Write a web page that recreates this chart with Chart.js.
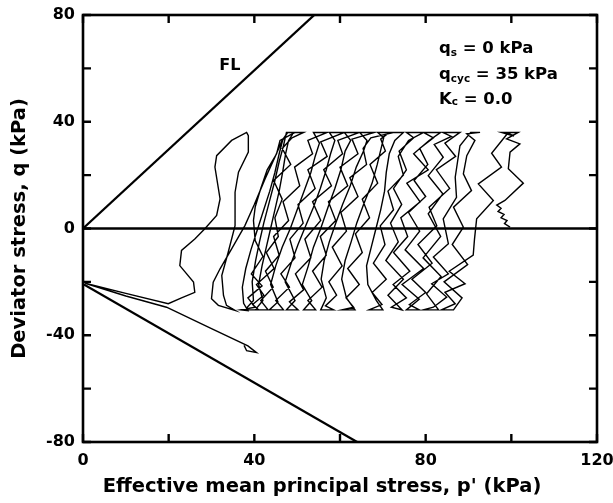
<!DOCTYPE html>
<html>
<head>
<meta charset="utf-8">
<script src="https://cdn.jsdelivr.net/npm/chart.js@4.4.1/dist/chart.umd.min.js"></script>
<style>
  body { margin: 0; background: #fff; }
  #wrap { width: 613px; height: 503px; }
</style>
</head>
<body>
<div id="wrap"><canvas id="stressChart" width="613" height="503"></canvas></div>
<script>
// axis ranges and labelled ticks
const xRange = [0, 120];
const yRange = [-80, 80];
const xTickLabels = [0, 40, 80, 120];
const yTickLabels = [-80, -40, 0, 40, 80];

// failure lines (compression / extension) and the q = 0 line
const flCompP = [0, 54];
const flCompQ = [0, 80];
const flExtP = [0, 64];
const flExtQ = [-20.8, -80];
const zeroP = [0, 120];
const zeroQ = [0, 0];

// stress path, [p', q] in kPa
const initialLoad = [
  [99.7,0.5],[98.4,1.8],[99.0,3.0],[97.6,4.0],[98.3,5.3],[96.9,6.4],[97.6,7.6],[96.6,8.8],
  [98.5,10.5],[102.8,17.0],[99.3,22.4],[99.7,28.6],[102.0,31.7],[98.9,33.6],[101.6,36.0],
  [97.7,36.0],[100.6,34.6],[99.2,35.8]
];
const cyclesRight = [
  [95.4,28.2],[97.7,23.0],[92.3,16.7],[95.8,10.5],[91.9,3.6],[91.4,-4.0],[91.1,-10.0],[85.5,-16.0],
  [89.2,-20.7],[84.5,-23.9],[86.9,-28.2],[83.7,-30.5],[86.5,-30.5],
  [88.5,-26.0],[84.3,-20.0],[89.8,-13.5],[86.2,-6.0],[88.8,0.5],[86.5,8.0],[90.7,14.2],[88.8,20.5],
  [89.6,27.3],[91.5,33.0],[89.6,35.5],[92.7,36.0],[90.5,36.0],
  [88.0,31.0],[86.9,19.2],[87.2,11.7],[84.1,3.6],[85.3,-5.7],[81.8,-10.7],[85.3,-17.0],[81.4,-20.7],
  [84.9,-25.7],[81.8,-29.5],[79.5,-30.5],[83.0,-30.5],
  [80.2,-24.5],[83.6,-18.0],[79.4,-11.0],[83.5,-3.0],[80.6,5.5],[84.0,13.0],[80.6,19.8],[84.1,26.7],
  [82.0,31.5],[86.0,34.5],[84.0,36.0],[88.0,36.0],
  [84.5,32.0],[87.0,27.0],[82.5,22.0],[85.6,15.0],[80.8,8.0],[82.6,1.0],[78.2,-6.0],[81.5,-13.0],
  [76.8,-19.0],[80.0,-24.0],[76.2,-28.5],[78.5,-30.5],[75.5,-30.5],
  [78.5,-26.5],[74.5,-21.0],[79.5,-15.0],[75.2,-8.0],[78.6,-1.0],[76.0,6.0],[80.0,12.0],[77.3,18.0],
  [80.5,24.0],[78.6,30.0],[81.8,34.0],[79.5,36.0],[83.5,36.0],
  [80.8,33.0],[77.2,28.0],[80.6,22.0],[75.6,17.0],[78.7,10.0],[74.2,4.0],[75.8,-3.0],[72.5,-9.0],
  [76.3,-16.0],[72.4,-21.0],[75.5,-26.0],[72.0,-29.5],[74.5,-30.5],
  [71.2,-25.0],[74.8,-19.0],[70.7,-12.0],[73.6,-5.0],[71.8,2.0],[74.4,9.0],[72.5,15.0],[75.5,22.0],
  [73.8,29.0],[77.2,34.0],[75.5,36.0],[79.5,36.0]
];
const cyclesMiddle = [
  [76.0,33.0],[73.6,27.0],[74.8,20.0],[71.2,14.0],[72.5,7.0],[69.4,1.0],[70.5,-6.0],[67.8,-13.0],
  [70.8,-19.0],[67.5,-24.0],[69.8,-28.5],[66.8,-30.5],[70.0,-30.5],
  [68.5,-27.0],[66.5,-21.0],[66.2,-14.0],[67.3,-7.0],[68.4,0.0],[69.5,7.0],[70.4,14.0],[70.8,21.0],
  [71.5,28.0],[72.8,33.0],[74.8,36.0],[71.5,36.0],
  [69.5,33.5],[70.6,29.0],[67.0,24.0],[68.8,17.0],[65.2,11.0],[66.9,4.0],[63.6,-2.0],[65.2,-9.0],
  [61.8,-15.0],[64.5,-21.0],[61.4,-26.0],[63.2,-29.5],[60.5,-30.5],[63.5,-30.5],
  [61.5,-26.0],[60.4,-19.0],[61.2,-12.0],[62.6,-5.0],[63.9,2.0],[65.5,9.0],[67.5,17.0],[68.7,24.0],
  [69.6,30.0],[70.2,34.0],[68.8,36.0],[72.5,36.0],
  [67.2,34.0],[65.4,30.0],[66.2,24.0],[62.3,19.0],[64.2,12.0],[60.2,6.0],[61.5,-1.0],[58.2,-7.0],
  [60.5,-14.0],[57.4,-20.0],[59.2,-25.0],[56.6,-29.0],[58.5,-30.5],[55.5,-30.5],
  [56.8,-26.0],[55.6,-19.0],[56.3,-12.0],[57.5,-5.0],[59.0,2.0],[60.6,9.0],[62.4,16.0],[63.8,23.0],
  [65.5,29.0],[66.3,33.0],[64.6,36.0],[68.0,36.0],
  [62.8,33.5],[64.2,28.0],[60.0,23.0],[61.8,16.0],[57.3,10.0],[59.0,3.0],[55.4,-3.0],[56.8,-10.0],
  [53.6,-16.0],[55.8,-22.0],[52.5,-27.0],[54.3,-30.5],[51.5,-30.5],
  [53.4,-27.0],[51.2,-21.0],[52.6,-14.0],[53.8,-7.0],[55.5,0.0],[57.2,8.0],[58.8,15.0],[60.2,22.0],
  [61.2,29.0],[62.5,33.0],[61.0,36.0],[64.5,36.0],
  [59.5,33.0],[60.6,28.0],[56.2,22.0],[58.0,16.0],[53.6,10.0],[55.5,3.0],[51.8,-4.0],[53.2,-11.0],
  [49.6,-17.0],[51.5,-23.0],[48.2,-27.5],[50.2,-30.5],[47.5,-30.5],
  [49.5,-27.0],[47.2,-20.0],[48.6,-13.0],[50.2,-6.0],[52.0,1.0],[53.8,8.0],[55.4,15.0],[56.8,22.0],
  [57.8,28.0],[58.8,33.0],[57.5,36.0],[61.0,36.0]
];
const cyclesLeft = [
  [55.5,32.5],[57.0,27.0],[52.5,22.0],[54.2,15.0],[50.2,9.0],[51.4,2.0],[48.3,-4.0],[49.5,-11.0],
  [46.2,-17.0],[48.2,-22.0],[45.0,-27.0],[46.8,-30.5],[43.5,-30.5],
  [45.5,-27.5],[43.8,-21.0],[45.0,-14.0],[46.5,-7.0],[48.4,0.0],[50.0,7.0],[51.6,14.0],[53.2,21.0],
  [54.2,27.0],[55.2,32.0],[53.8,36.0],[57.0,36.0],
  [52.5,33.0],[53.6,28.0],[49.4,23.0],[50.6,16.0],[46.7,10.0],[48.0,3.0],[44.5,-3.0],[45.8,-10.0],
  [42.6,-16.0],[44.4,-22.0],[41.5,-27.0],[43.2,-30.5],[40.2,-30.5],
  [42.0,-27.0],[41.0,-21.0],[41.8,-14.0],[42.8,-7.0],[43.8,0.0],[44.8,7.0],[45.8,14.0],[46.6,21.0],
  [47.3,28.0],[48.0,33.0],[49.2,36.0],[51.5,36.0],
  [48.8,34.0],[46.5,30.0],[48.5,24.0],[44.5,18.0],[46.5,11.0],[44.8,4.0],[45.6,-3.0],[42.8,-9.0],
  [44.6,-15.0],[40.5,-21.0],[42.2,-25.0],[39.6,-28.5],[41.0,-30.5],[37.8,-30.5],
  [39.8,-27.0],[39.5,-20.0],[40.3,-12.0],[41.2,-5.0],[42.2,2.0],[43.5,10.0],[44.8,18.0],[45.8,25.0],
  [46.8,31.0],[47.5,36.0],[49.5,36.0],
  [46.0,33.0],[45.2,28.0],[43.0,22.0],[41.5,15.0],[40.2,8.0],[39.8,3.0],[40.2,-4.5],[42.0,-10.5],
  [39.3,-17.0],[41.8,-21.5],[38.5,-26.0],[40.2,-29.5],[36.8,-30.5],[38.5,-30.8],
  [37.5,-28.0],[37.2,-22.0],[38.0,-15.0],[39.2,-8.0],[40.8,0.0],[42.2,7.0],[43.6,14.0],[44.8,21.0],
  [45.8,28.0],[46.6,33.0],[47.8,36.0]
];
const finalCycles = [
  [46.5,33.0],[44.8,26.7],[42.5,18.6],[40.0,9.0],[37.8,1.1],[34.7,-7.6],[32.0,-15.1],[30.4,-20.1],
  [30.0,-26.3],[31.6,-28.8],[35.5,-30.7],
  [33.5,-28.8],[32.8,-25.1],[32.4,-17.6],[33.9,-8.9],[35.5,1.1],[35.5,13.6],[36.3,21.1],[38.6,28.6],
  [38.6,34.8],[38.2,36.0],
  [34.7,33.0],[31.2,27.3],[30.8,23.0],[32.0,11.1],[31.2,4.9],[28.5,0.0],[26.1,-3.9],[23.0,-8.2],
  [22.6,-13.9],[25.8,-20.1],[26.1,-23.9],[23.0,-26.0],[19.9,-28.2],[10.0,-24.3],[0.5,-20.5],
  [10.0,-25.3],[19.5,-29.5],[30.0,-37.5],[38.5,-44.0],[40.5,-46.5],[38.2,-45.8],[37.6,-43.8]
];

const stressPath = initialLoad.concat(cyclesRight, cyclesMiddle, cyclesLeft, finalCycles);

const xTitle = "Effective mean principal stress, p' (kPa)";
const yTitle = "Deviator stress, q (kPa)";

function toPoints(ps, qs) {
  return ps.map((p, i) => ({ x: p, y: qs[i] }));
}

const FONT = '"DejaVu Sans", "Liberation Sans", Arial, sans-serif';

// frame, inward ticks and the text annotations
const framePlugin = {
  id: "frame",
  afterDraw(chart) {
    const ctx = chart.ctx;
    const area = chart.chartArea;
    const xs = chart.scales.x;
    const ys = chart.scales.y;
    ctx.save();
    ctx.strokeStyle = "#000";
    ctx.lineWidth = 2.6;
    ctx.strokeRect(area.left, area.top, area.right - area.left, area.bottom - area.top);

    const tickLen = 8;
    ctx.lineWidth = 2.4;
    ctx.beginPath();
    xs.ticks.forEach(t => {
      let px = xs.getPixelForValue(t.value);
      ctx.moveTo(px, area.bottom); ctx.lineTo(px, area.bottom - tickLen);
      ctx.moveTo(px, area.top); ctx.lineTo(px, area.top + tickLen);
    });
    ys.ticks.forEach(t => {
      let py = ys.getPixelForValue(t.value);
      ctx.moveTo(area.left, py); ctx.lineTo(area.left + tickLen, py);
      ctx.moveTo(area.right, py); ctx.lineTo(area.right - tickLen, py);
    });
    ctx.stroke();

    ctx.fillStyle = "#000";

    // x axis title, sits a little left of the plot centre in the original
    ctx.font = "bold 19.5px " + FONT;
    ctx.textAlign = "center";
    ctx.textBaseline = "middle";
    ctx.fillText(xTitle, 322, 487);

    // FL label
    ctx.textBaseline = "alphabetic";
    ctx.textAlign = "left";
    ctx.font = "bold 16px " + FONT;
    ctx.fillText("FL", xs.getPixelForValue(31.8), ys.getPixelForValue(59.5));

    // test conditions
    let x0 = area.left + 356;
    drawSub(ctx, x0, 53, "q", "s", " = 0 kPa", 3);
    drawSub(ctx, x0, 78.5, "q", "cyc", " = 35 kPa", 3);
    drawSub(ctx, x0, 104, "K", "c", " = 0.0", 1);
    ctx.restore();
  }
};

function drawSub(ctx, x, y, main, sub, rest, dy) {
  const big = "bold 16.5px " + FONT;
  const small = "bold 10.5px " + FONT;
  ctx.font = big;
  ctx.fillText(main, x, y);
  x += ctx.measureText(main).width;
  ctx.font = small;
  ctx.fillText(sub, x, y + dy);
  x += ctx.measureText(sub).width;
  ctx.font = big;
  ctx.fillText(rest, x, y);
}

const tickFont = { family: FONT, weight: "bold", size: 16 };
const titleFont = { family: FONT, weight: "bold", size: 19.5 };

new Chart(document.getElementById("stressChart"), {
  type: "scatter",
  data: {
    datasets: [
      {
        data: toPoints(flCompP, flCompQ),
        showLine: true, borderColor: "#000", borderWidth: 2.3, pointRadius: 0
      },
      {
        data: toPoints(flExtP, flExtQ),
        showLine: true, borderColor: "#000", borderWidth: 2.3, pointRadius: 0
      },
      {
        data: toPoints(zeroP, zeroQ),
        showLine: true, borderColor: "#000", borderWidth: 2.3, pointRadius: 0
      },
      {
        data: stressPath.map(pt => ({ x: pt[0], y: pt[1] })),
        showLine: true, borderColor: "#000", borderWidth: 1.4, pointRadius: 0,
        tension: 0
      }
    ]
  },
  options: {
    responsive: false,
    devicePixelRatio: 1,
    animation: false,
    layout: { padding: { top: 15, right: 16, left: 0, bottom: 0 } },
    plugins: {
      legend: { display: false },
      tooltip: { enabled: false }
    },
    scales: {
      x: {
        type: "linear",
        min: xRange[0],
        max: xRange[1],
        afterFit(scale) {
          scale.height = 61;
          scale.paddingLeft = 0;
          scale.paddingRight = 0;
        },
        grid: { display: false, drawTicks: false },
        border: { display: false },
        ticks: {
          stepSize: 20,
          autoSkip: false,
          maxRotation: 0,
          padding: 9,
          color: "#000",
          font: tickFont,
          callback: v => (xTickLabels.includes(v) ? String(v) : "")
        },
        title: { display: false }
      },
      y: {
        type: "linear",
        min: yRange[0],
        max: yRange[1],
        afterFit(scale) {
          scale.width = 83;
          scale.paddingTop = 0;
          scale.paddingBottom = 0;
        },
        grid: { display: false, drawTicks: false },
        border: { display: false },
        ticks: {
          stepSize: 20,
          autoSkip: false,
          padding: 8,
          color: "#000",
          font: tickFont,
          callback: v => (yTickLabels.includes(v) ? String(v) : "")
        },
        title: {
          display: true,
          text: yTitle,
          color: "#000",
          font: titleFont,
          padding: { top: 8, bottom: 0 }
        }
      }
    }
  },
  plugins: [framePlugin]
});
</script>
</body>
</html>
